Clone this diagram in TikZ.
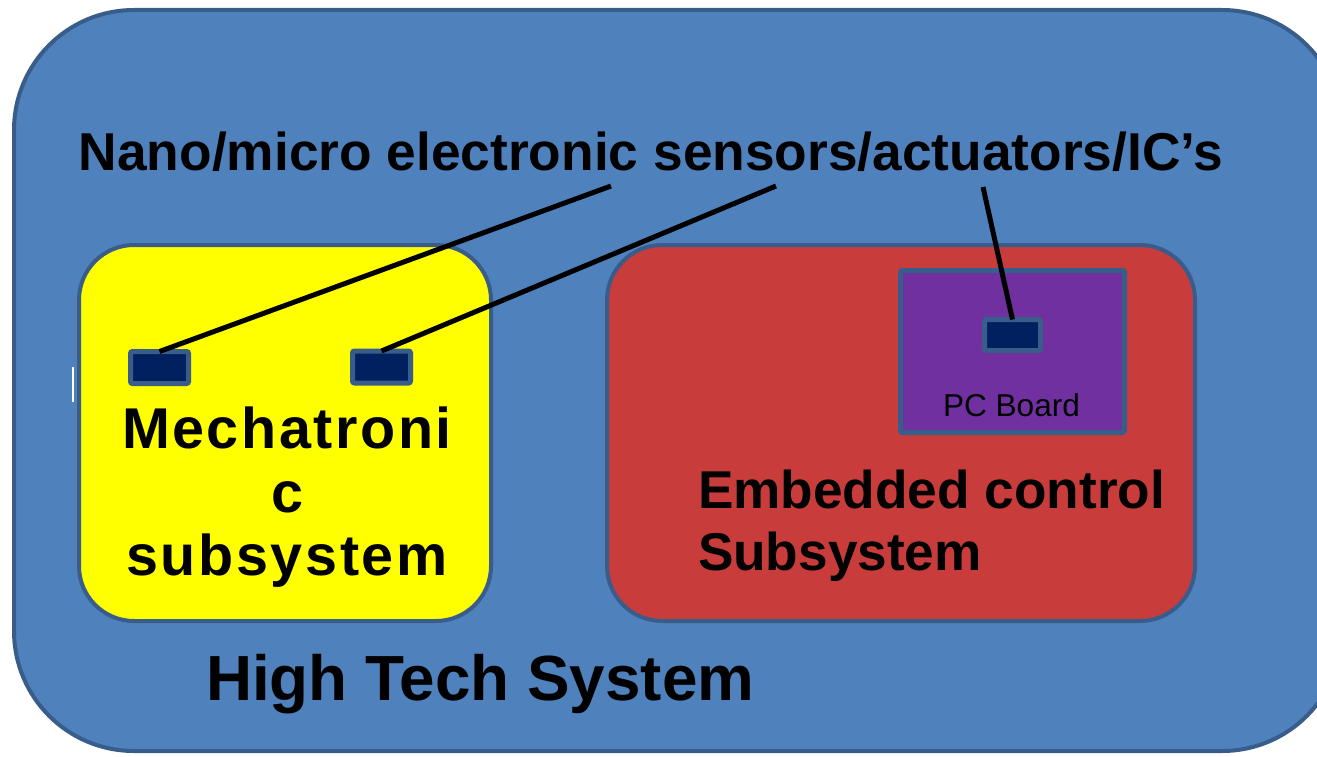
\documentclass[tikz,border=0pt]{standalone}
\usepackage{fontspec}
\setmainfont{Liberation Sans}
\definecolor{hts}{HTML}{4F81BD}
\definecolor{edgeblue}{HTML}{385D8A}
\definecolor{mech}{HTML}{FFFF00}
\definecolor{emb}{HTML}{C93C3C}
\definecolor{pcb}{HTML}{7030A0}
\definecolor{chipfill}{HTML}{002060}
\begin{document}
\begin{tikzpicture}[x=1pt,y=-1pt,
  panel/.style={draw=edgeblue, line width=4pt, inner sep=0pt, outer sep=0pt},
  chipbox/.style={draw=edgeblue, fill=chipfill, line width=5pt, rounded corners=2pt,
    inner sep=0pt, outer sep=0pt, minimum width=58pt, minimum height=32pt},
  wire/.style={line width=5pt, black},
  lbl/.style={inner sep=0pt, outer sep=0pt, text=black},
  mechfont/.style={font=\fontsize{57.5}{64}\selectfont\bfseries\addfontfeature{LetterSpace=4.5}}]
\useasboundingbox (0,0) rectangle (1317,757);
\clip (0,0) rectangle (1317,757);
% boxes
\node[panel, fill=hts, rounded corners=120pt, minimum width=1328pt, minimum height=741pt] (hts) at (678,380.5) {};
\node[panel, fill=mech, rounded corners=55pt, minimum width=412pt, minimum height=376pt] (mechbox) at (285,433) {};
\node[panel, fill=emb, rounded corners=55pt, minimum width=588pt, minimum height=376pt] (embbox) at (901,433) {};
\node[panel, fill=pcb, line width=5pt, rounded corners=2pt, minimum width=224pt, minimum height=162pt] (pcbbox) at (1012.5,351.5) {};
% chips
\node[chipbox] (chip1) at (159.5,367.5) {};
\node[chipbox] (chip2) at (381.5,367) {};
\node[chipbox, minimum width=56pt, minimum height=31pt] (chip3) at (1012.5,335) {};
% artifact
\draw[white, line width=1.5pt] (73,367) -- (73,402);
% texts
\node[lbl, anchor=base, font=\fontsize{53.3}{60}\selectfont\bfseries] (nano) at (651,170) {Nano/micro electronic sensors/actuators/IC’s};
\node[lbl, anchor=base, mechfont] (mt1) at (287,448) {Mechatroni};
\node[lbl, anchor=base, mechfont] (mt2) at (287,512) {c};
\node[lbl, anchor=base, mechfont] (mt3) at (287,575) {subsystem};
\node[lbl, anchor=base west, font=\fontsize{53.2}{62}\selectfont\bfseries] (ec1) at (698,508) {Embedded control};
\node[lbl, anchor=base west, font=\fontsize{53.2}{62}\selectfont\bfseries] (ec2) at (698,570) {Subsystem};
\node[lbl, anchor=base west, font=\fontsize{63.8}{70}\selectfont\bfseries] (hightech) at (206,700) {High Tech System};
\node[lbl, anchor=base, font=\fontsize{31.6}{36}\selectfont] (pclabel) at (1011.5,416) {PC Board};
% connectors
\coordinate (t1) at (611,186);
\coordinate (t2) at (776,186);
\coordinate (t3) at (983,187);
\draw[wire] (t1) -- (chip1.north);
\draw[wire] (t2) -- (chip2.north);
\draw[wire] (t3) -- (chip3.north);
\end{tikzpicture}
\end{document}
